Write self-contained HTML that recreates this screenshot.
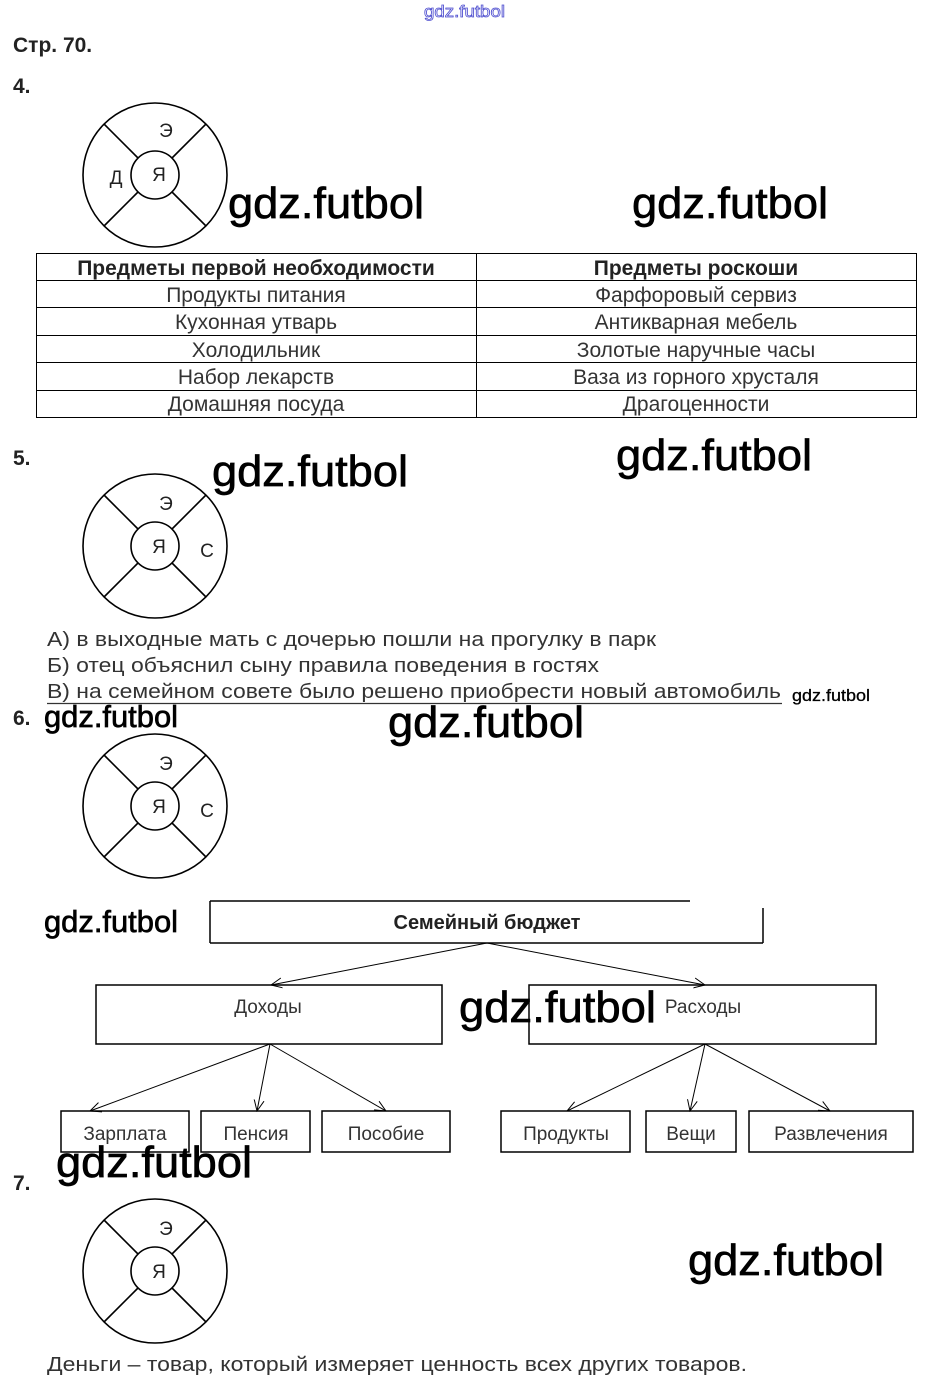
<!DOCTYPE html>
<html><head><meta charset="utf-8"><style>
html,body{margin:0;padding:0;background:#fff;}
svg{display:block;}
text{font-family:"Liberation Sans",sans-serif;}
.wm{font-family:"Liberation Sans",sans-serif;fill:#000;stroke:#000;stroke-width:0.7;}
.t{fill:#333;font-size:20px;}
</style></head><body>
<svg width="928" height="1389" viewBox="0 0 928 1389" xmlns="http://www.w3.org/2000/svg">
<defs>
<g id="circ" fill="none" stroke="#000" stroke-width="1.6">
<circle cx="0" cy="0" r="72"/>
<circle cx="0" cy="0" r="24"/>
<line x1="-17" y1="-17" x2="-51" y2="-51"/>
<line x1="17" y1="-17" x2="51" y2="-51"/>
<line x1="-17" y1="17" x2="-51" y2="51"/>
<line x1="17" y1="17" x2="51" y2="51"/>
</g>
<marker id="ar" markerWidth="12" markerHeight="12" refX="11" refY="6" orient="auto" markerUnits="userSpaceOnUse">
<path d="M0,1 L11,6 L0,11" fill="none" stroke="#000" stroke-width="1"/>
</marker>
</defs>

<text x="424" y="17" font-size="17" fill="#fff" stroke="#5050d0" stroke-width="0.8" textLength="81" lengthAdjust="spacingAndGlyphs">gdz.futbol</text>

<text x="13" y="52" font-size="21" font-weight="bold" fill="#222">Стр. 70.</text>
<text x="13" y="93" font-size="21" font-weight="bold" fill="#222">4.</text>

<use href="#circ" x="155" y="175"/>
<text x="166" y="137" font-size="19" text-anchor="middle" fill="#222">Э</text>
<text x="116" y="184" font-size="19" text-anchor="middle" fill="#222">Д</text>
<text x="159" y="181" font-size="19" text-anchor="middle" fill="#222">Я</text>

<text class="wm" x="228" y="218" font-size="44" textLength="196" lengthAdjust="spacingAndGlyphs">gdz.futbol</text>
<text class="wm" x="632" y="218" font-size="44" textLength="196" lengthAdjust="spacingAndGlyphs">gdz.futbol</text>

<g stroke="#000" stroke-width="1" fill="none">
<rect x="36.5" y="253.5" width="880" height="164"/>
<line x1="476.5" y1="253" x2="476.5" y2="417"/>
<line x1="36" y1="280.5" x2="916" y2="280.5"/>
<line x1="36" y1="307.5" x2="916" y2="307.5"/>
<line x1="36" y1="335.5" x2="916" y2="335.5"/>
<line x1="36" y1="362.5" x2="916" y2="362.5"/>
<line x1="36" y1="390.5" x2="916" y2="390.5"/>
</g>
<g font-size="21" text-anchor="middle" fill="#333">
<text x="256" y="275" font-weight="bold" fill="#222">Предметы первой необходимости</text>
<text x="696" y="275" font-weight="bold" fill="#222">Предметы роскоши</text>
<text x="256" y="302">Продукты питания</text>
<text x="696" y="302">Фарфоровый сервиз</text>
<text x="256" y="329">Кухонная утварь</text>
<text x="696" y="329">Антикварная мебель</text>
<text x="256" y="357">Холодильник</text>
<text x="696" y="357">Золотые наручные часы</text>
<text x="256" y="384">Набор лекарств</text>
<text x="696" y="384">Ваза из горного хрусталя</text>
<text x="256" y="411">Домашняя посуда</text>
<text x="696" y="411">Драгоценности</text>
</g>

<text x="13" y="465" font-size="21" font-weight="bold" fill="#222">5.</text>
<text class="wm" x="212" y="486" font-size="44" textLength="196" lengthAdjust="spacingAndGlyphs">gdz.futbol</text>
<text class="wm" x="616" y="470" font-size="44" textLength="196" lengthAdjust="spacingAndGlyphs">gdz.futbol</text>
<use href="#circ" x="155" y="546"/>
<text x="166" y="510" font-size="19" text-anchor="middle" fill="#222">Э</text>
<text x="159" y="553" font-size="19" text-anchor="middle" fill="#222">Я</text>
<text x="207" y="557" font-size="19" text-anchor="middle" fill="#222">С</text>

<text class="t" x="47" y="646" font-size="21" textLength="609" lengthAdjust="spacingAndGlyphs">А) в выходные мать с дочерью пошли на прогулку в парк</text>
<text class="t" x="47" y="672" font-size="21" textLength="552" lengthAdjust="spacingAndGlyphs">Б) отец объяснил сыну правила поведения в гостях</text>
<text class="t" x="47" y="698" font-size="21" textLength="734" lengthAdjust="spacingAndGlyphs">В) на семейном совете было решено приобрести новый автомобиль</text>
<line x1="47" y1="703.5" x2="782" y2="703.5" stroke="#333" stroke-width="1.2"/>
<text class="wm" x="792" y="701" font-size="17" textLength="78" lengthAdjust="spacingAndGlyphs" style="stroke-width:0.3">gdz.futbol</text>

<text x="13" y="725" font-size="21" font-weight="bold" fill="#222">6.</text>
<text class="wm" x="44" y="727" font-size="31" textLength="134" lengthAdjust="spacingAndGlyphs">gdz.futbol</text>
<text class="wm" x="388" y="737" font-size="44" textLength="196" lengthAdjust="spacingAndGlyphs">gdz.futbol</text>
<use href="#circ" x="155" y="806"/>
<text x="166" y="770" font-size="19" text-anchor="middle" fill="#222">Э</text>
<text x="159" y="813" font-size="19" text-anchor="middle" fill="#222">Я</text>
<text x="207" y="817" font-size="19" text-anchor="middle" fill="#222">С</text>

<text class="wm" x="44" y="932" font-size="31" textLength="134" lengthAdjust="spacingAndGlyphs">gdz.futbol</text>
<g stroke="#000" stroke-width="1.5" fill="none">
<line x1="210" y1="901" x2="690" y2="901"/>
<line x1="210" y1="901" x2="210" y2="943"/>
<line x1="763" y1="908" x2="763" y2="943"/>
<line x1="210" y1="943" x2="763" y2="943"/>
<rect x="96" y="985" width="346" height="59"/>
<rect x="529" y="985" width="347" height="59"/>
<rect x="61" y="1111" width="128" height="41"/>
<rect x="201" y="1111" width="109" height="41"/>
<rect x="322" y="1111" width="128" height="41"/>
<rect x="501" y="1111" width="129" height="41"/>
<rect x="646" y="1111" width="90" height="41"/>
<rect x="749" y="1111" width="164" height="41"/>
</g>
<g stroke="#000" stroke-width="1" fill="none" marker-end="url(#ar)">
<line x1="487" y1="943" x2="271" y2="985"/>
<line x1="487" y1="943" x2="705" y2="985"/>
<line x1="270" y1="1044" x2="90" y2="1111"/>
<line x1="270" y1="1044" x2="257" y2="1111"/>
<line x1="270" y1="1044" x2="386" y2="1111"/>
<line x1="705" y1="1044" x2="567" y2="1111"/>
<line x1="705" y1="1044" x2="690" y2="1111"/>
<line x1="705" y1="1044" x2="830" y2="1111"/>
</g>
<text x="487" y="929" font-size="20" font-weight="bold" text-anchor="middle" fill="#222">Семейный бюджет</text>
<g font-size="19" text-anchor="middle" fill="#333">
<text x="268" y="1013">Доходы</text>
<text x="703" y="1013">Расходы</text>
<text x="125" y="1140">Зарплата</text>
<text x="256" y="1140">Пенсия</text>
<text x="386" y="1140">Пособие</text>
<text x="566" y="1140">Продукты</text>
<text x="691" y="1140">Вещи</text>
<text x="831" y="1140">Развлечения</text>
</g>
<text class="wm" x="459" y="1022" font-size="44" textLength="197" lengthAdjust="spacingAndGlyphs">gdz.futbol</text>
<text class="wm" x="56" y="1177" font-size="44" textLength="196" lengthAdjust="spacingAndGlyphs">gdz.futbol</text>

<text x="13" y="1190" font-size="21" font-weight="bold" fill="#222">7.</text>
<use href="#circ" x="155" y="1271"/>
<text x="166" y="1235" font-size="19" text-anchor="middle" fill="#222">Э</text>
<text x="159" y="1278" font-size="19" text-anchor="middle" fill="#222">Я</text>
<text class="wm" x="688" y="1275" font-size="44" textLength="196" lengthAdjust="spacingAndGlyphs">gdz.futbol</text>

<text class="t" x="47" y="1371" font-size="21" textLength="700" lengthAdjust="spacingAndGlyphs">Деньги – товар, который измеряет ценность всех других товаров.</text>
</svg>
</body></html>
